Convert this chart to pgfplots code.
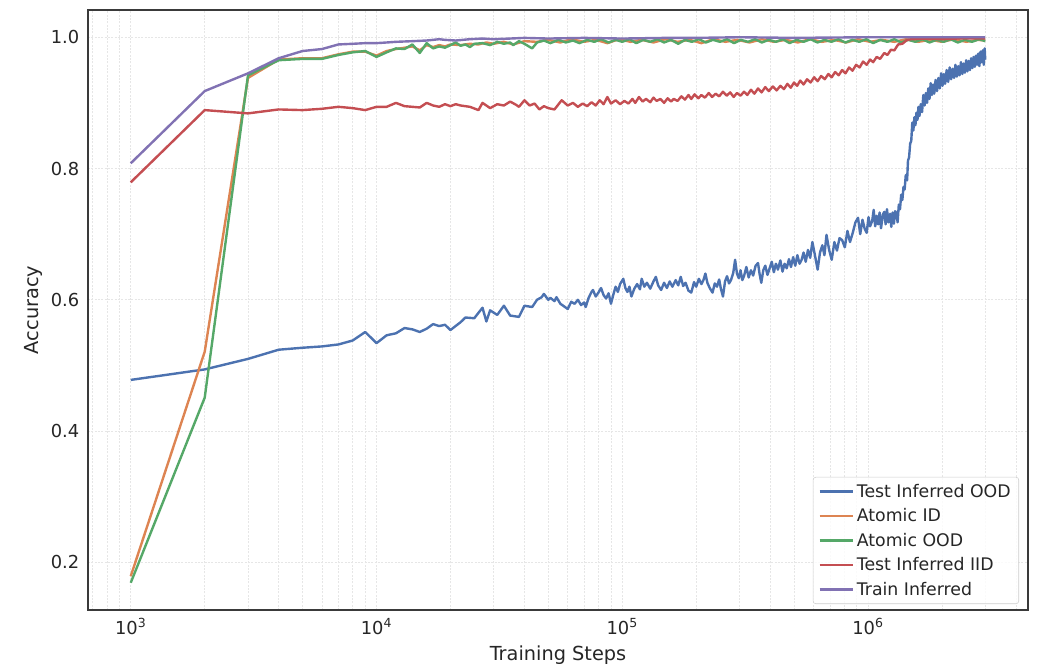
\documentclass[border=0pt]{standalone}
\usepackage{fontspec}
\setmainfont{DejaVu Sans}
\usepackage{pgfplots}
\usepackage{pgfplotstable}
\pgfplotsset{compat=1.18}

\definecolor{sbblue}{HTML}{4C72B0}
\definecolor{sborange}{HTML}{DD8452}
\definecolor{sbgreen}{HTML}{55A868}
\definecolor{sbred}{HTML}{C44E52}
\definecolor{sbpurple}{HTML}{8172B3}
\definecolor{gridc}{HTML}{E6E6E6}
\definecolor{framec}{HTML}{3A3A3A}
\definecolor{textc}{HTML}{262626}
\definecolor{legc}{HTML}{CCCCCC}

% Test Inferred OOD
\pgfplotstableread{
step acc
1000 0.478
2000 0.494
3000 0.510
4000 0.524
5000 0.527
6000 0.529
7000 0.532
8000 0.538
9000 0.551
10000 0.534
11000 0.546
12000 0.549
13000 0.557
14000 0.555
15000 0.551
16000 0.556
17000 0.563
18000 0.560
19000 0.562
20000 0.554
22000 0.566
23000 0.573
25000 0.572
27000 0.588
28000 0.567
29000 0.584
31000 0.577
33000 0.591
35000 0.576
38000 0.574
40000 0.591
43000 0.589
45000 0.600
47000 0.604
48000 0.609
50000 0.600
51000 0.603
53000 0.598
54000 0.604
56000 0.594
58000 0.590
60000 0.586
62000 0.597
64000 0.594
66000 0.600
68000 0.592
70000 0.596
71000 0.589
73000 0.603
75000 0.612
76000 0.615
78000 0.605
80000 0.611
82000 0.618
84000 0.607
86000 0.602
88000 0.610
90000 0.594
92000 0.608
94000 0.620
96000 0.612
98000 0.624
101000 0.632
103000 0.618
105000 0.612
107000 0.620
109000 0.605
112000 0.617
115000 0.624
118000 0.616
120000 0.632
123000 0.620
126000 0.626
130000 0.617
134000 0.628
137000 0.635
140000 0.622
144000 0.615
148000 0.626
152000 0.618
156000 0.628
160000 0.620
165000 0.630
169000 0.622
173000 0.635
177000 0.621
181000 0.626
186000 0.614
191000 0.611
196000 0.627
200000 0.620
205000 0.632
210000 0.624
214000 0.630
218000 0.640
222000 0.626
227000 0.618
233000 0.611
238000 0.625
243000 0.620
248000 0.631
252000 0.617
257000 0.605
262000 0.628
267000 0.636
272000 0.625
277000 0.630
283000 0.641
288000 0.661
293000 0.640
298000 0.633
303000 0.645
308000 0.630
313000 0.636
320000 0.650
327000 0.634
334000 0.645
341000 0.637
349000 0.652
357000 0.656
362000 0.640
368000 0.626
375000 0.645
382000 0.652
390000 0.638
398000 0.648
406000 0.658
414000 0.642
422000 0.655
430000 0.646
440000 0.660
449000 0.643
458000 0.655
467000 0.648
477000 0.662
486000 0.650
496000 0.665
506000 0.652
516000 0.668
527000 0.655
537000 0.661
547000 0.672
558000 0.658
570000 0.676
582000 0.664
594000 0.688
609000 0.667
624000 0.646
638000 0.672
652000 0.683
665000 0.668
678000 0.699
695000 0.676
712000 0.661
730000 0.688
748000 0.675
766000 0.694
785000 0.691
805000 0.680
825000 0.705
845000 0.688
867000 0.702
889000 0.718
911000 0.725
930000 0.700
950000 0.722
970000 0.708
988000 0.702
1005000 0.726
1020000 0.712
1040000 0.720
1055000 0.737
1070000 0.712
1085000 0.728
1100000 0.715
1115000 0.733
1130000 0.709
1150000 0.730
1165000 0.734
1180000 0.715
1195000 0.738
1210000 0.718
1230000 0.731
1244000 0.711
1260000 0.733
1275000 0.716
1290000 0.735
1306000 0.732
1320000 0.718
1335000 0.745
1350000 0.738
1365000 0.760
1380000 0.752
1395000 0.772
1410000 0.768
1425000 0.790
1443000 0.782
1455000 0.812
1470000 0.817
1485000 0.838
1500000 0.842
1515000 0.870
1530000 0.858
1545000 0.878
1560000 0.866
1575000 0.885
1590000 0.874
1605000 0.894
1620000 0.880
1640000 0.898
1660000 0.886
1680000 0.912
1700000 0.896
1720000 0.915
1740000 0.900
1760000 0.922
1780000 0.906
1800000 0.930
1820000 0.912
1840000 0.928
1860000 0.914
1885000 0.935
1910000 0.918
1935000 0.938
1960000 0.922
1985000 0.945
2010000 0.926
2035000 0.944
2060000 0.929
2090000 0.950
2120000 0.932
2150000 0.954
2180000 0.936
2210000 0.952
2240000 0.938
2270000 0.958
2300000 0.940
2330000 0.956
2360000 0.942
2390000 0.962
2420000 0.944
2450000 0.960
2480000 0.946
2510000 0.965
2540000 0.948
2570000 0.964
2600000 0.950
2630000 0.968
2660000 0.953
2690000 0.970
2720000 0.955
2750000 0.972
2780000 0.958
2810000 0.975
2840000 0.956
2870000 0.978
2900000 0.962
2930000 0.980
2960000 0.958
2985000 0.983
3000000 0.966
}\oodtab

% Atomic ID
\pgfplotstableread{
step acc
1000 0.179
2000 0.521
3000 0.938
4000 0.966
5000 0.968
6000 0.968
7000 0.974
8000 0.978
9000 0.978
10000 0.972
11000 0.979
12000 0.982
13000 0.984
14000 0.986
15000 0.980
16000 0.988
17000 0.985
18000 0.988
19000 0.986
20000 0.989
22000 0.988
24000 0.990
26000 0.989
28000 0.992
30000 0.990
33000 0.993
36000 0.989
40000 0.994
45000 0.993
50000 0.996
56000 0.992
62000 0.997
70000 0.993
78000 0.996
87000 0.991
97000 0.997
108000 0.993
120000 0.996
134000 0.992
150000 0.997
168000 0.993
188000 0.996
210000 0.991
235000 0.997
263000 0.993
294000 0.996
330000 0.992
370000 0.997
414000 0.993
463000 0.996
518000 0.992
580000 0.997
650000 0.993
728000 0.996
815000 0.992
912000 0.997
1020000 0.993
1140000 0.996
1280000 0.993
1430000 0.997
1600000 0.993
1790000 0.996
2000000 0.993
2240000 0.997
2510000 0.993
2800000 0.996
3000000 0.995
}\aidtab

% Atomic OOD
\pgfplotstableread{
step acc
1000 0.169
2000 0.451
3000 0.942
4000 0.965
5000 0.967
6000 0.967
7000 0.973
8000 0.977
9000 0.979
10000 0.970
11000 0.977
12000 0.983
13000 0.982
14000 0.989
15000 0.976
16000 0.991
17000 0.983
18000 0.986
19000 0.984
20000 0.988
21000 0.992
22000 0.987
23000 0.989
24000 0.985
25000 0.990
27000 0.991
29000 0.988
31000 0.993
33000 0.990
35000 0.992
36000 0.988
38000 0.994
40000 0.990
43000 0.983
45000 0.992
48000 0.995
51000 0.991
55000 0.996
59000 0.992
63000 0.995
67000 0.991
72000 0.996
77000 0.993
82000 0.997
88000 0.992
94000 0.996
100000 0.993
107000 0.997
114000 0.991
122000 0.996
130000 0.993
139000 0.997
148000 0.992
158000 0.996
169000 0.990
180000 0.996
192000 0.993
205000 0.997
219000 0.992
234000 0.996
250000 0.993
267000 0.997
285000 0.991
304000 0.996
325000 0.993
347000 0.997
370000 0.992
395000 0.996
422000 0.993
450000 0.997
480000 0.991
512000 0.996
547000 0.993
584000 0.997
623000 0.992
665000 0.996
710000 0.993
758000 0.997
809000 0.992
864000 0.996
922000 0.993
985000 0.997
1050000 0.991
1120000 0.996
1200000 0.993
1280000 0.997
1365000 0.992
1460000 0.996
1560000 0.993
1665000 0.997
1780000 0.992
1900000 0.996
2030000 0.993
2170000 0.997
2320000 0.992
2480000 0.996
2650000 0.993
2830000 0.997
3000000 0.994
}\aoodtab

% Test Inferred IID
\pgfplotstableread{
step acc
1000 0.779
2000 0.889
3000 0.884
4000 0.890
5000 0.889
6000 0.891
7000 0.894
8000 0.892
9000 0.889
10000 0.894
11000 0.894
12000 0.900
13000 0.895
14000 0.894
15000 0.893
16000 0.900
17000 0.896
18000 0.894
19000 0.898
20000 0.895
21000 0.898
22000 0.896
24000 0.894
26000 0.889
27000 0.900
28000 0.896
29000 0.892
31000 0.898
33000 0.896
35000 0.902
37000 0.897
38000 0.894
40000 0.904
42000 0.896
44000 0.899
46000 0.890
48000 0.895
50000 0.892
53000 0.890
56700 0.904
60000 0.896
63000 0.900
66000 0.894
69000 0.899
72000 0.895
75000 0.901
78000 0.896
81000 0.904
84000 0.898
87000 0.909
90000 0.899
94000 0.904
98000 0.898
102000 0.903
106000 0.899
110000 0.906
113000 0.900
117000 0.909
121000 0.902
125000 0.906
130000 0.901
134000 0.908
138000 0.903
143000 0.906
148000 0.900
153000 0.907
158000 0.902
162000 0.906
168000 0.903
174000 0.910
180000 0.905
186000 0.912
191000 0.906
197000 0.913
204000 0.907
210000 0.912
217000 0.908
225000 0.915
232000 0.909
240000 0.914
248000 0.910
257000 0.917
266000 0.911
275000 0.916
284000 0.909
293000 0.915
303000 0.911
313000 0.917
323000 0.912
334000 0.920
345000 0.914
357000 0.922
369000 0.916
382000 0.924
395000 0.918
410000 0.925
425000 0.919
440000 0.926
455000 0.921
470000 0.929
485000 0.923
500000 0.931
515000 0.926
530000 0.934
547000 0.928
565000 0.936
584000 0.931
604000 0.939
624000 0.933
645000 0.941
667000 0.936
690000 0.944
712000 0.939
735000 0.947
760000 0.942
785000 0.950
810000 0.945
838000 0.954
865000 0.949
895000 0.958
925000 0.954
955000 0.963
988000 0.958
1020000 0.966
1050000 0.962
1085000 0.970
1120000 0.967
1165000 0.976
1200000 0.973
1240000 0.981
1280000 0.980
1327000 0.989
1380000 0.990
1443000 0.996
1500000 0.997
1700000 0.998
2000000 0.997
2300000 0.998
2600000 0.998
3000000 0.998
}\iidtab

% Train Inferred
\pgfplotstableread{
step acc
1000 0.808
2000 0.918
3000 0.945
4000 0.968
5000 0.979
6000 0.982
7000 0.989
8000 0.990
9000 0.991
10000 0.991
11000 0.992
12000 0.993
14000 0.994
16000 0.995
18000 0.997
19000 0.996
21000 0.995
24000 0.997
27000 0.998
30000 0.997
35000 0.998
40000 0.999
50000 0.998
70000 0.999
100000 0.998
150000 0.999
200000 0.999
300000 1.000
500000 0.999
1000000 1.000
2000000 1.000
3000000 1.000
}\traintab

\begin{document}
\begin{tikzpicture}
\begin{axis}[
  scale only axis,
  width=705pt, height=450pt,
  xmode=log,
  xmin=670, xmax=4480000,
  ymin=0.1275, ymax=1.0415,
  xtick={1000,10000,100000,1000000},
  xticklabels={10\textsuperscript{3},10\textsuperscript{4},10\textsuperscript{5},10\textsuperscript{6}},
  minor xtick={700,800,900,2000,3000,4000,5000,6000,7000,8000,9000,20000,30000,40000,50000,60000,70000,80000,90000,200000,300000,400000,500000,600000,700000,800000,900000,2000000,3000000,4000000},
  ytick={0.2,0.4,0.6,0.8,1.0},
  yticklabels={0.2,0.4,0.6,0.8,1.0},
  major tick length=0pt, minor tick length=0pt,
  grid=both,
  major grid style={gridc, line width=0.6pt, dash pattern=on 1.5pt off 1pt},
  minor grid style={gridc, line width=0.6pt, dash pattern=on 1.5pt off 1pt},
  axis line style={framec, line width=1.1pt},
  ticklabel style={font=\fontsize{13.4}{16}\selectfont, text=textc},
  xticklabel style={yshift=-3pt},
  yticklabel style={xshift=-3pt},
  xlabel={Training Steps},
  ylabel={Accuracy},
  label style={font=\fontsize{14.5}{17}\selectfont, text=textc},
  xlabel style={at={(axis description cs:0.5,-0.075)}, anchor=center},
  ylabel style={at={(axis description cs:-0.0585,0.5)}, anchor=center},
  legend style={at={(0.9904,0.01)}, anchor=south east, draw=legc, rounded corners=2pt,
    fill=white, fill opacity=0.8, text opacity=1, text=textc,
    font=\fontsize{13}{15.6}\selectfont, row sep=3pt, inner xsep=4pt, inner ysep=3pt},
  legend cell align=left,
  legend image code/.code={\draw[#1] (0pt,0pt) -- (25pt,0pt);},
  every axis plot/.append style={line width=1.8pt, line join=round},
]
\addplot[sbblue] table[x=step, y=acc] {\oodtab};
\addlegendentry{Test Inferred OOD}
\addplot[sborange] table[x=step, y=acc] {\aidtab};
\addlegendentry{Atomic ID}
\addplot[sbgreen] table[x=step, y=acc] {\aoodtab};
\addlegendentry{Atomic OOD}
\addplot[sbred] table[x=step, y=acc] {\iidtab};
\addlegendentry{Test Inferred IID}
\addplot[sbpurple] table[x=step, y=acc] {\traintab};
\addlegendentry{Train Inferred}
\end{axis}
\path ([xshift=-66pt,yshift=-43.5pt]current axis.south west) rectangle ([xshift=7.5pt,yshift=7.5pt]current axis.north east);
\end{tikzpicture}
\end{document}
